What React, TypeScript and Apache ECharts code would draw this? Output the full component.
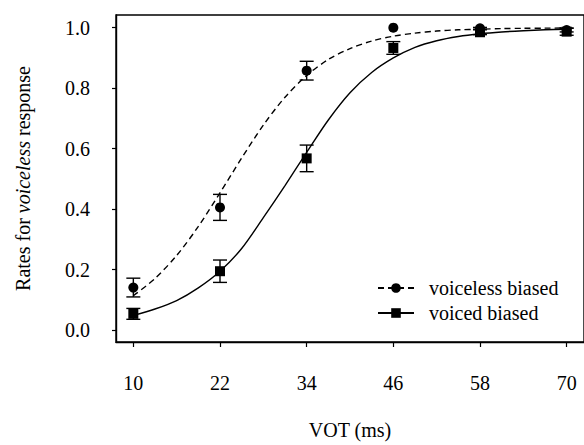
import React, { useEffect, useRef } from "react";
import * as echarts from "echarts";

// Stimulus VOT steps (ms)
const vot = [10, 22, 34, 46, 58, 70];
const xTicks = [10, 22, 34, 46, 58, 70];
const yTicks = [0, 0.2, 0.4, 0.6, 0.8, 1.0];

// Observed means and standard errors
const voicelessMeans = [0.141, 0.406, 0.858, 1.0, 0.998, 0.992];
const voicelessErr = [0.031, 0.043, 0.031, 0.0, 0.003, 0.006];
const voicedMeans = [0.054, 0.195, 0.568, 0.933, 0.985, 0.987];
const voicedErr = [0.018, 0.037, 0.044, 0.021, 0.008, 0.012];

// Fitted curves
const curveX = [10, 13, 16, 19, 22, 25, 28, 31, 34, 37, 40, 43, 46, 49, 52, 55, 58, 61, 64, 67, 70];
const voicelessCurve = [0.114, 0.171, 0.247, 0.343, 0.454, 0.569, 0.678, 0.77, 0.842, 0.895, 0.931, 0.956, 0.972, 0.982, 0.989, 0.993, 0.995, 0.997, 0.998, 0.9985, 0.999];
const voicedCurve = [0.049, 0.07, 0.098, 0.14, 0.195, 0.27, 0.372, 0.478, 0.588, 0.695, 0.785, 0.852, 0.9, 0.935, 0.957, 0.971, 0.98, 0.986, 0.99, 0.993, 0.995];

const FONT = '"Liberation Serif", "Times New Roman", serif';

export default function App() {
  const ref = useRef<HTMLDivElement>(null);

  useEffect(() => {
    if (!ref.current) return;
    const chart = echarts.init(ref.current, undefined, { renderer: "svg" });

    const errData = (means: number[], errs: number[]) =>
      vot.map((x, i) => [x, means[i] - errs[i], means[i] + errs[i]]);

    const errorSeries = (name: string, means: number[], errs: number[]) => ({
      type: "custom",
      name,
      data: errData(means, errs),
      z: 3,
      silent: true,
      renderItem: (params: any, api: any) => {
        const x = api.value(0);
        const lo = api.coord([x, api.value(1)]);
        const hi = api.coord([x, api.value(2)]);
        if (Math.abs(hi[1] - lo[1]) < 0.5) return { type: "group", children: [] };
        const hw = 7;
        const style = { stroke: "#000", lineWidth: 1.4, fill: "none" };
        return {
          type: "group",
          children: [
            { type: "line", shape: { x1: lo[0], y1: lo[1], x2: hi[0], y2: hi[1] }, style },
            { type: "line", shape: { x1: lo[0] - hw, y1: lo[1], x2: lo[0] + hw, y2: lo[1] }, style },
            { type: "line", shape: { x1: hi[0] - hw, y1: hi[1], x2: hi[0] + hw, y2: hi[1] }, style },
          ],
        };
      },
    });

    chart.setOption({
      animation: false,
      textStyle: { fontFamily: FONT, color: "#000" },
      grid: {
        left: 116,
        top: 15,
        right: -2,
        bottom: 98,
        show: true,
        borderColor: "#000",
        borderWidth: 1.4,
        backgroundColor: "transparent",
      },
      legend: {
        data: ["voiceless biased", "voiced biased"],
        orient: "vertical",
        left: 372,
        top: 273,
        itemWidth: 36,
        itemHeight: 12,
        itemGap: 5,
        textStyle: {
          fontFamily: FONT,
          fontSize: 20,
          color: "#000",
          lineHeight: 20,
          padding: [0, 0, 0, 10],
        },
      },
      xAxis: {
        type: "value",
        min: 7.6,
        max: 72.4,
        name: "VOT (ms)",
        nameLocation: "middle",
        nameGap: 78,
        nameTextStyle: { fontFamily: FONT, fontSize: 20, color: "#000" },
        axisLine: { show: true, onZero: false, lineStyle: { color: "#000", width: 1.4 } },
        axisTick: { show: true, length: 5, customValues: xTicks, lineStyle: { color: "#000", width: 1.2 } },
        axisLabel: {
          customValues: xTicks,
          margin: 31,
          fontFamily: FONT,
          fontSize: 20,
          color: "#000",
        },
        splitLine: { show: false },
      },
      yAxis: {
        type: "value",
        min: -0.039,
        max: 1.042,
        name: "{n|Rates for }{i|voiceless}{n| response}",
        nameLocation: "middle",
        nameGap: 83,
        nameRotate: 90,
        nameTextStyle: {
          fontFamily: FONT,
          fontSize: 20,
          color: "#000",
          rich: {
            n: { fontFamily: FONT, fontSize: 20, color: "#000" },
            i: { fontFamily: FONT, fontSize: 20, color: "#000", fontStyle: "italic" },
          },
        },
        axisLine: { show: true, onZero: false, lineStyle: { color: "#000", width: 1.4 } },
        axisTick: { show: true, length: 4, customValues: yTicks, lineStyle: { color: "#000", width: 1.2 } },
        axisLabel: {
          customValues: yTicks,
          margin: 26,
          fontFamily: FONT,
          fontSize: 20,
          color: "#000",
          formatter: (v: number) => v.toFixed(1),
        },
        splitLine: { show: false },
      },
      series: [
        {
          type: "line",
          name: "voiceless biased",
          data: curveX.map((x, i) => [x, voicelessCurve[i]]),
          smooth: 0.3,
          symbol: "circle",
          showSymbol: false,
          itemStyle: { color: "#000", opacity: 1 },
          lineStyle: { color: "#000", width: 1.4, type: [6, 4] },
          z: 2,
        },
        {
          type: "line",
          name: "voiced biased",
          data: curveX.map((x, i) => [x, voicedCurve[i]]),
          smooth: 0.3,
          symbol: "rect",
          showSymbol: false,
          itemStyle: { color: "#000", opacity: 1 },
          lineStyle: { color: "#000", width: 1.4, type: "solid" },
          z: 2,
        },
        errorSeries("voiceless error", voicelessMeans, voicelessErr),
        errorSeries("voiced error", voicedMeans, voicedErr),
        {
          type: "scatter",
          name: "voiceless means",
          data: vot.map((x, i) => [x, voicelessMeans[i]]),
          symbol: "circle",
          symbolSize: 10,
          itemStyle: { color: "#000", opacity: 1 },
          z: 4,
        },
        {
          type: "scatter",
          name: "voiced means",
          data: vot.map((x, i) => [x, voicedMeans[i]]),
          symbol: "rect",
          symbolSize: 10,
          itemStyle: { color: "#000", opacity: 1 },
          z: 4,
        },
      ],
    });

    return () => chart.dispose();
  }, []);

  return (
    <div
      ref={ref}
      style={{ position: "fixed", left: 0, top: 0, width: 584, height: 445, background: "#fff" }}
    />
  );
}
